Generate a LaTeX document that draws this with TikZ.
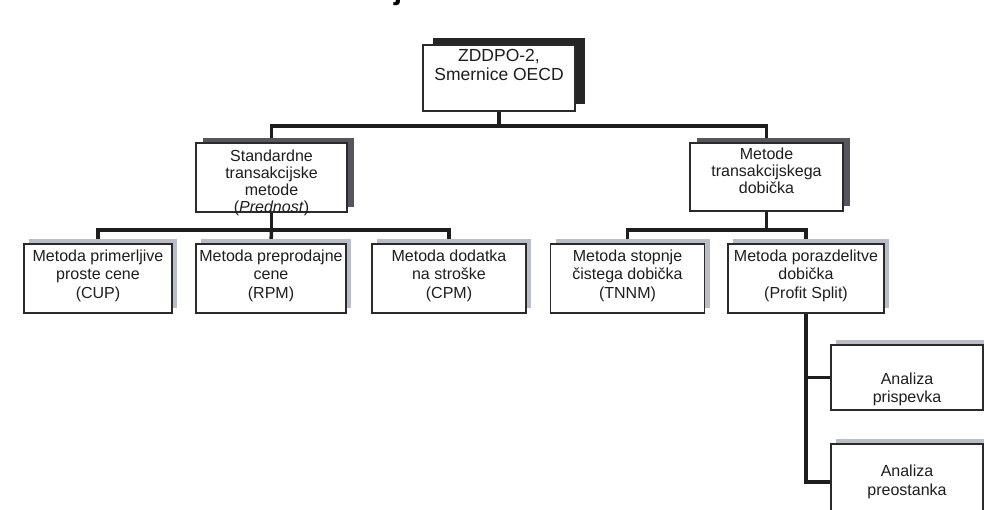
\documentclass[tikz,border=0pt]{standalone}
\usepackage{fontspec}
\setmainfont{Liberation Sans}
\usetikzlibrary{shadows,calc}
\definecolor{ink}{HTML}{1E1E1E}
\definecolor{boxline}{HTML}{2A2A2A}
\definecolor{shdark}{HTML}{262626}
\definecolor{shmid}{HTML}{55575C}
\definecolor{shlight}{HTML}{B9BDC8}
\tikzset{
  box/.style={draw=boxline, line width=1.6pt, fill=white, inner sep=0pt, minimum height=68pt},
  topshadow/.style={copy shadow={shadow xshift=10pt, shadow yshift=7pt, fill=shdark, draw=none}},
  midshadow/.style={copy shadow={shadow xshift=7pt, shadow yshift=5pt, fill=shmid, draw=none}},
  lowshadow/.style={copy shadow={shadow xshift=5pt, shadow yshift=5pt, fill=shlight, draw=none}},
  bus/.style={draw=ink, line width=3.5pt},
  ttop/.style={text=ink, align=center, inner sep=0pt, font=\fontsize{17.5}{19}\selectfont},
  tmid/.style={text=ink, align=center, inner sep=0pt, font=\fontsize{16}{17}\selectfont},
  tlow/.style={text=ink, align=center, inner sep=0pt, font=\fontsize{16}{18.5}\selectfont},
}
\begin{document}
\begin{tikzpicture}[x=1pt,y=-1pt]
\useasboundingbox (0,0) rectangle (984,509);
\clip (0,0) rectangle (984,509);
% fragment of a heading letter cut by the top edge
\node[text=black, inner sep=0pt, anchor=base, font=\bfseries\fontsize{30}{30}\selectfont] (jfrag) at (398,-1) {j};

% box centres (pixels, y downwards)
\coordinate (pt) at (499,78);
\coordinate (ps) at (271.5,177.5);
\coordinate (pm) at (766.5,177);

% junction points
\coordinate (j1) at (499,126);
\coordinate (j2) at (271.5,230);
\coordinate (j3) at (766.5,230);

% box nodes
\path node[box, minimum width=152pt, minimum height=66pt] (top) at (pt) {}
      node[box, minimum width=151pt, minimum height=69pt] (std) at (ps) {}
      node[box, minimum width=153pt, minimum height=68pt] (met) at (pm) {}
      node[box, minimum width=148pt, minimum height=69pt] (b1) at (98,278.5) {}
      node[box, minimum width=150pt, minimum height=69pt] (b2) at (271,278.5) {}
      node[box, minimum width=154pt, minimum height=69pt] (b3) at (449,278.5) {}
      node[box, minimum width=154pt, minimum height=69pt] (b4) at (627.5,278.5) {}
      node[box, minimum width=156pt, minimum height=69pt] (b5) at (806,278.5) {}
      node[box, minimum width=152pt, minimum height=65pt] (a1) at (907,377.5) {}
      node[box, minimum width=152pt, minimum height=76pt] (a2) at (907,482) {};

% connectors
\draw[bus] (top.south) -- (j1);
\draw[bus] (std.north) |- (j1);
\draw[bus] (met.north) |- (j1);
\draw[bus] (std.south) -- (j2);
\draw[bus] (b1.north) |- (j2);
\draw[bus] (b2.north) -- (j2);
\draw[bus] (b3.north) |- (j2);
\draw[bus] (met.south) -- (j3);
\draw[bus] (b4.north) |- (j3);
\draw[bus] (b5.north) |- (j3);
\draw[bus] (b5.south) |- (a2.west);
\draw[bus] (b5.south) |- (a1.west);

% boxes with their shadows, on top of the connector ends
\node[box, topshadow, minimum width=152pt, minimum height=66pt] at (top) {};
\node[box, midshadow, minimum width=151pt, minimum height=69pt] at (std) {};
\node[box, midshadow, minimum width=153pt, minimum height=68pt] at (met) {};
\node[box, lowshadow, minimum width=148pt, minimum height=69pt] at (b1) {};
\node[box, lowshadow, minimum width=150pt, minimum height=69pt] at (b2) {};
\node[box, lowshadow, minimum width=154pt, minimum height=69pt] at (b3) {};
\node[box, lowshadow, minimum width=154pt, minimum height=69pt] at (b4) {};
\node[box, lowshadow, minimum width=156pt, minimum height=69pt] at (b5) {};
\node[box, lowshadow, minimum width=152pt, minimum height=65pt] at (a1) {};
\node[box, lowshadow, minimum width=152pt, minimum height=76pt] at (a2) {};

% texts
\node[ttop] (ttopn) at ($(top)+(0,-13)$) {ZDDPO-2,\\Smernice OECD};
\node[tmid] (tstd) at ($(std)+(0,5)$) {Standardne\\transakcijske\\metode\\(\textit{Prednost})};
\node[tmid] (tmet) at ($(met)+(0,-6)$) {Metode\\transakcijskega\\dobička};
\node[tlow] (tb1) at ($(b1)+(0,-3)$) {Metoda primerljive\\proste cene\\(CUP)};
\node[tlow] (tb2) at ($(b2)+(0,-3)$) {Metoda preprodajne\\cene\\(RPM)};
\node[tlow] (tb3) at ($(b3)+(0,-3)$) {Metoda dodatka\\na stroške\\(CPM)};
\node[tlow] (tb4) at ($(b4)+(0,-3)$) {Metoda stopnje\\čistega dobička\\(TNNM)};
\node[tlow] (tb5) at ($(b5)+(0,-3)$) {Metoda porazdelitve\\dobička\\(Profit Split)};
\node[tlow] (ta1) at ($(a1)+(0,12)$) {Analiza\\prispevka};
\node[tlow] (ta2) at ($(a2)+(0,0)$) {Analiza\\preostanka};
\end{tikzpicture}
\end{document}
